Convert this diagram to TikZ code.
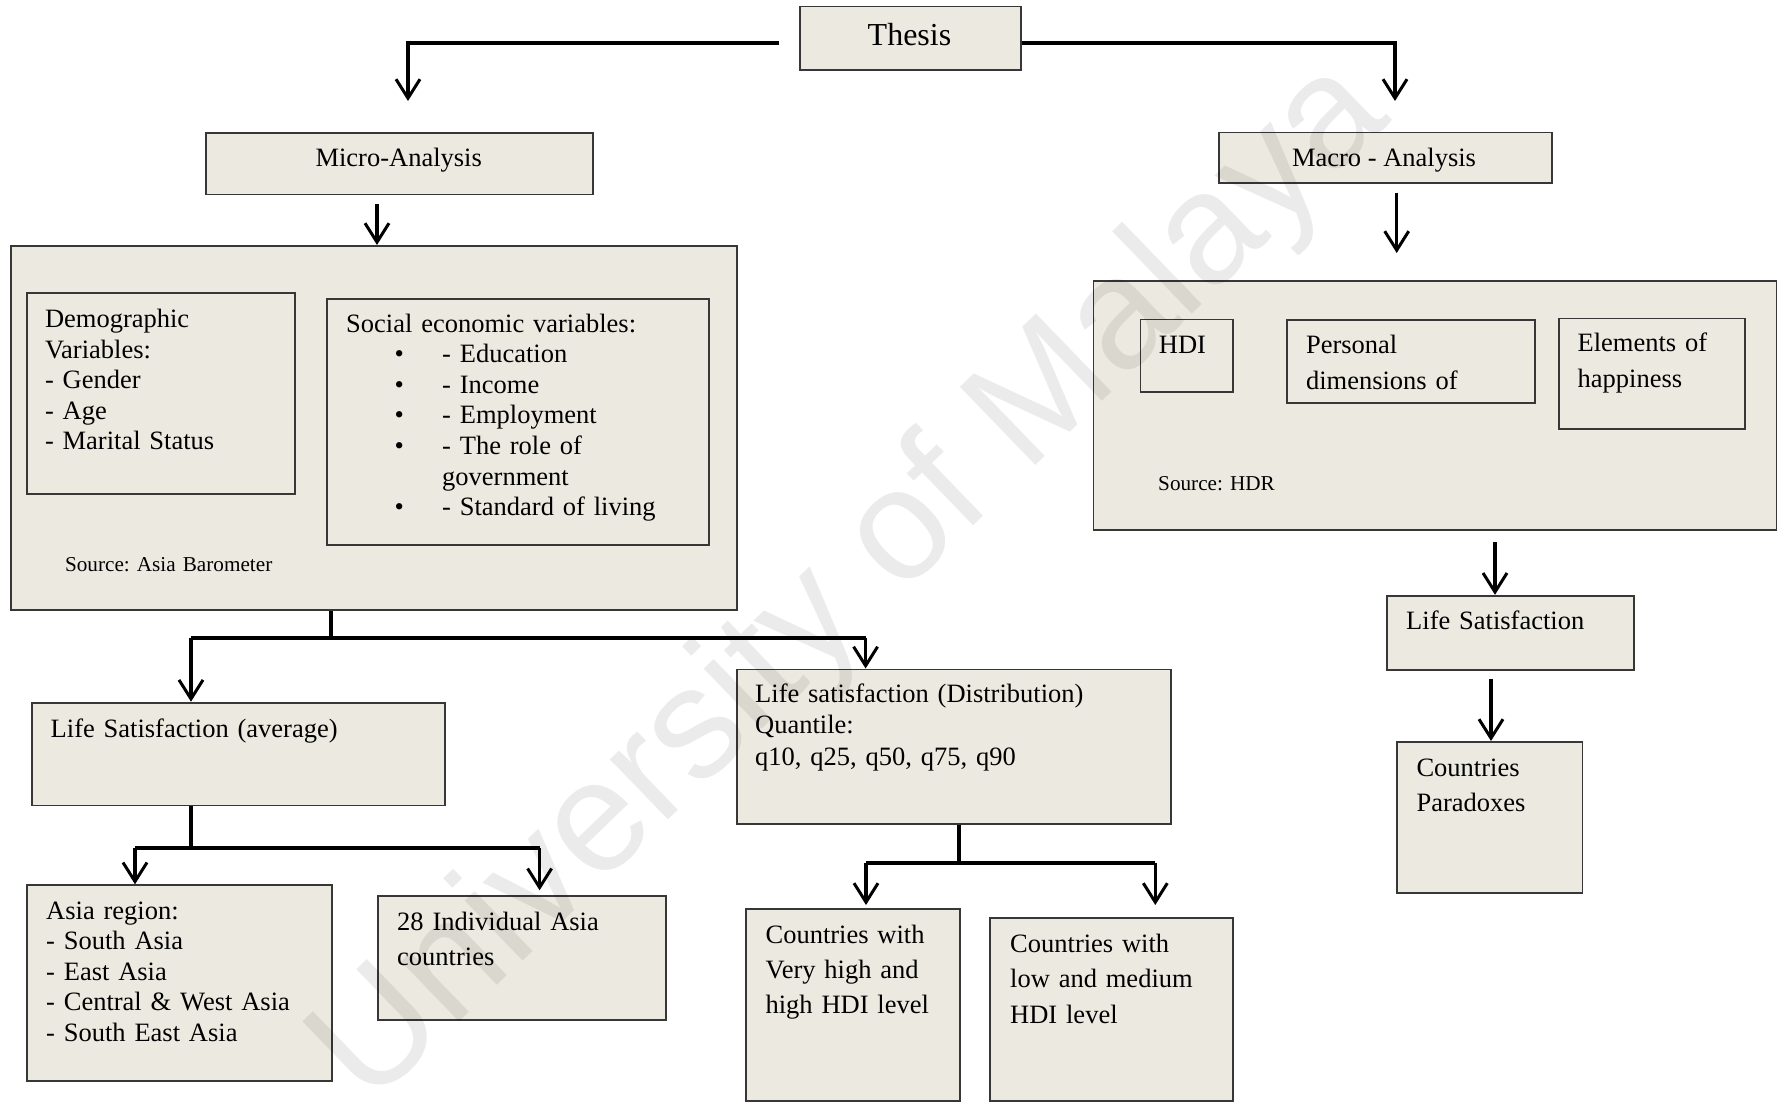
\documentclass[tikz,border=0pt]{standalone}
\usepackage{fontspec}
\setmainfont{Liberation Serif}
\newfontfamily\wmfont{Liberation Sans}
\usetikzlibrary{arrows.meta}
\definecolor{boxfill}{RGB}{236,234,224}
\definecolor{boxline}{RGB}{55,55,55}
\frenchspacing
\begin{document}
\begin{tikzpicture}[x=1pt,y=-1pt,
  box/.style={draw=boxline, line width=1.8pt, fill=boxfill, anchor=north west, inner sep=0pt},
  txt/.style={anchor=base west, inner sep=0pt, align=left, text width=#1},
  txt/.default=400pt,
  fmain/.style={font=\fontsize{26.5}{30.6}\selectfont},
  fwide/.style={font=\fontsize{26.5}{35.3}\selectfont},
  fdist/.style={font=\fontsize{26.5}{31.7}\selectfont},
  fsrc/.style={font=\fontsize{21.2}{25}\selectfont},
  hbar/.style={line width=4pt},
  arr/.style={line width=3.2pt, -{Straight Barb[length=19pt,width=24pt,line width=3pt]}},
  tarr/.style={line width=4.2pt, -{Straight Barb[length=19pt,width=24pt,line width=3pt]}}
]
\useasboundingbox (0,0) rectangle (1780,1102);
\fill[white] (0,0) rectangle (1780,1102);

% ---- boxes ----
\node[box, minimum width=221pt, minimum height=63.6pt] (thesis) at (799,5.7) {};
\node[box, minimum width=387.4pt, minimum height=61.7pt] (micro) at (205,132) {};
\node[box, minimum width=333.3pt, minimum height=50.6pt] (macro) at (1217.7,131.7) {};
\node[box, minimum width=726.2pt, minimum height=364pt] (microbig) at (9.8,245) {};
\node[box, minimum width=268.2pt, minimum height=201pt] (demo) at (25.8,292) {};
\node[box, minimum width=382.4pt, minimum height=246pt] (social) at (326,298) {};
\node[box, minimum width=683pt, minimum height=249pt] (macrobig) at (1092.5,280) {};
\node[box, minimum width=92.1pt, minimum height=72.5pt] (hdi) at (1139.6,318.5) {};
\node[box, minimum width=248pt, minimum height=83.3pt] (personal) at (1286,319) {};
\node[box, minimum width=186pt, minimum height=110.4pt] (elements) at (1557.8,317.5) {};
\node[box, minimum width=247pt, minimum height=74pt] (lsmacro) at (1386,594.8) {};
\node[box, minimum width=185.3pt, minimum height=150.7pt] (paradox) at (1396.3,741) {};
\node[box, minimum width=412.8pt, minimum height=102.8pt] (lsavg) at (31,701.7) {};
\node[box, minimum width=434.6pt, minimum height=154.3pt] (dist) at (735.8,668.5) {};
\node[box, minimum width=305.4pt, minimum height=195.5pt] (asia) at (25.8,884.3) {};
\node[box, minimum width=287.8pt, minimum height=124pt] (ind) at (377,895.3) {};
\node[box, minimum width=214.2pt, minimum height=192.5pt] (vh) at (744.8,907.8) {};
\node[box, minimum width=243.2pt, minimum height=183.3pt] (low) at (989,917) {};

% ---- texts ----
\node[anchor=base, inner sep=0pt, font=\fontsize{32}{36}\selectfont] (tThesis) at (909.5,45.7) {Thesis};
\node[anchor=base, inner sep=0pt, fmain] (tMicro) at (398.7,166.5) {Micro-Analysis};
\node[anchor=base, inner sep=0pt, fmain] (tMacro) at (1384,166.5) {Macro - Analysis};

\node[txt, fmain] (tDemo) at (44.8,327.5) {Demographic\\Variables:\\- Gender\\- Age\\- Marital Status};
\node[txt, fmain] (tSocial) at (346,332.1) {Social economic variables:\\
\makebox[96pt][l]{\hspace*{48.5pt}\textbullet}- Education\\
\makebox[96pt][l]{\hspace*{48.5pt}\textbullet}- Income\\
\makebox[96pt][l]{\hspace*{48.5pt}\textbullet}- Employment\\
\makebox[96pt][l]{\hspace*{48.5pt}\textbullet}- The role of\\
\hspace*{96pt}government\\
\makebox[96pt][l]{\hspace*{48.5pt}\textbullet}- Standard of living};
\node[txt, fsrc] (tSrcA) at (64.9,571.4) {Source: Asia Barometer};

\node[txt=80pt, fwide] (tHdi) at (1158.7,353.8) {HDI};
\node[txt=230pt, fwide] (tPers) at (1305.8,353.8) {Personal\\dimensions of};
\node[txt=170pt, fwide] (tElem) at (1577.4,351.8) {Elements of\\happiness};
\node[txt, fsrc] (tSrcH) at (1158,490) {Source: HDR};

\node[txt=240pt, fmain] (tLsm) at (1406,629) {Life Satisfaction};
\node[txt=180pt, fwide] (tPar) at (1416.3,776) {Countries\\Paradoxes};

\node[txt, fmain] (tLsa) at (50.5,737) {Life Satisfaction (average)};
\node[txt, fdist] (tDist) at (755,702) {Life satisfaction (Distribution)\\Quantile:\\q10, q25, q50, q75, q90};

\node[txt=290pt, fmain] (tAsia) at (46,919) {Asia region:\\- South Asia\\- East Asia\\- Central \& West Asia\\- South East Asia};
\node[txt=280pt, fwide] (tInd) at (397,930) {28 Individual Asia\\countries};
\node[txt=200pt, fwide] (tVh) at (765.4,943) {Countries with\\Very high and\\high HDI level};
\node[txt=240pt, fwide] (tLow) at (1010,952.5) {Countries with\\low and medium\\HDI level};

% ---- connectors ----
\coordinate (cTL) at (408,43);
\coordinate (eTL) at (408,101);
\coordinate (cTR) at (1395,43);
\coordinate (eTR) at (1395,101);
\draw[tarr] ([xshift=-20pt]thesis.west |- cTL) -| (eTL);
\draw[tarr] (thesis.east |- cTR) -| (eTR);

\coordinate (sMi) at (377,204);
\draw[arr] (sMi) -- (sMi |- microbig.north);
\coordinate (sMa) at (1396.7,192.6);
\coordinate (eMa) at (1396.7,253);
\draw[arr] (sMa) -- (eMa);
\coordinate (sLm) at (1495,542);
\draw[arr] (sLm) -- (sLm |- lsmacro.north);
\coordinate (sPa) at (1491,678.5);
\draw[arr] (sPa) -- (sPa |- paradox.north);

% micro split
\coordinate (j1) at (331,638);
\coordinate (j1l) at (191,638);
\coordinate (j1r) at (865.6,638);
\draw[hbar] (j1 |- microbig.south) -- (j1);
\draw[hbar] (j1l) -- (j1r);
\draw[arr] (j1l) -- (j1l |- lsavg.north);
\draw[arr] (j1r) -- (j1r |- dist.north);

% average split
\coordinate (j2) at (191,848.3);
\coordinate (j2l) at (135,848.3);
\coordinate (j2r) at (539.6,848.3);
\draw[hbar] (j2 |- lsavg.south) -- (j2);
\draw[hbar] (j2l) -- (j2r);
\draw[arr] (j2l) -- (j2l |- asia.north);
\draw[arr] (j2r) -- ([yshift=5pt]j2r |- ind.north);

% distribution split
\coordinate (j3) at (959,862.7);
\coordinate (j3l) at (866,862.7);
\coordinate (j3r) at (1155.3,862.7);
\coordinate (e3l) at (866,905);
\coordinate (e3r) at (1155.3,905);
\draw[hbar] (j3 |- dist.south) -- (j3);
\draw[hbar] (j3l) -- (j3r);
\draw[arr] (j3l) -- (e3l);
\draw[arr] (j3r) -- (e3r);

% ---- watermark ----
\node[rotate=44, inner sep=0pt, text=black, text opacity=0.08,
      font=\wmfont\fontsize{158}{158}\selectfont] (wm) at (853,585) {University of Malaya};
\end{tikzpicture}
\end{document}
